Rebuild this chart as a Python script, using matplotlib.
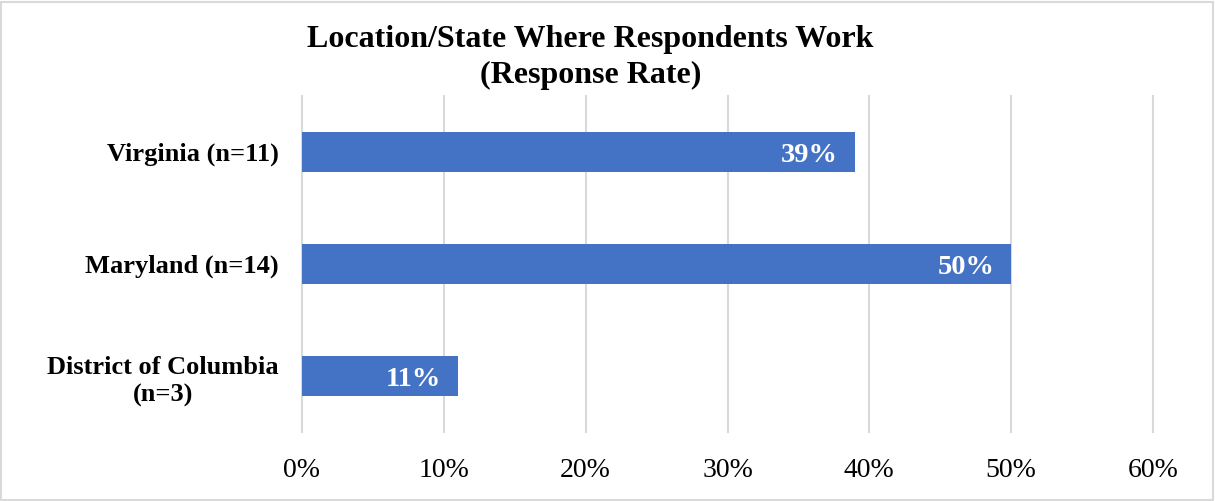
import matplotlib.pyplot as plt
from matplotlib.patches import Rectangle

categories = ["District of Columbia\n(n=3)", "Maryland (n=14)", "Virginia (n=11)"]
values = [11, 50, 39]
xticks = [0, 10, 20, 30, 40, 50, 60]

plt.rcParams["font.family"] = ["Liberation Serif", "DejaVu Serif"]

fig = plt.figure(figsize=(12.15, 5.01), dpi=100)
ax = fig.add_axes([302 / 1215, 1 - 432 / 501, (1153 - 302) / 1215, (432 - 96) / 501])

bars = ax.barh(range(len(categories)), values, height=0.35, color="#4472C4", zorder=3)
ax.set_ylim(-0.5, len(categories) - 0.5)
ax.set_xlim(0, 60)
ax.set_xticks(xticks)
ax.set_xticklabels([f"{t}%" for t in xticks], fontsize=20)
ax.set_yticks(range(len(categories)))
ax.set_yticklabels(categories, fontsize=19, fontweight="bold", ha="right",
                   multialignment="center")
for lab in ax.get_yticklabels():
    lab.set_linespacing(1.3)
ax.tick_params(axis="y", length=0, pad=17)
ax.tick_params(axis="x", length=0, pad=19)
ax.grid(axis="x", color="#d9d9d9", linewidth=1.5, zorder=0)
for gl in ax.get_xgridlines():
    gl.set_clip_on(False)
for s in ax.spines.values():
    s.set_visible(False)

for b, v in zip(bars, values):
    ax.text(b.get_width() - 1.2, b.get_y() + b.get_height() / 2, f"{v}%",
            ha="right", va="center_baseline", color="white", fontsize=20.5,
            fontweight="bold", zorder=4)

fig.suptitle("Location/State Where Respondents Work\n(Response Rate)", x=0.486, y=0.95,
             fontsize=23, fontweight="bold", linespacing=1.33)

fig.patches.append(Rectangle((0.001, 0.002), 0.997, 0.995, transform=fig.transFigure,
                             fill=False, edgecolor="#d9d9d9", linewidth=1.5))

fig.savefig("out.png", dpi=100)
